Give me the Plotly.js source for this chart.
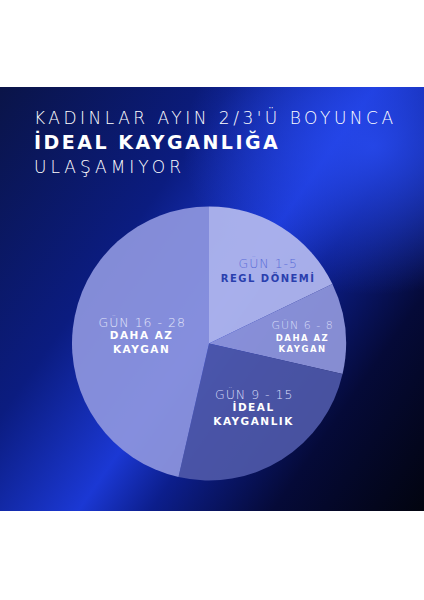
<!DOCTYPE html>
<html>
<head>
<meta charset="utf-8">
<script src="https://cdn.plot.ly/plotly-3.0.1.min.js"></script>
<style>
  html, body { margin: 0; padding: 0; background: #fff; }
  #wrap { position: relative; width: 424px; height: 600px; }
  #bg {
    position: absolute; left: 0; top: 87px; width: 424px; height: 424px;
    background:
      radial-gradient(ellipse 45% 35% at 88% 14%, rgba(40,75,240,0.85) 0%, rgba(40,75,240,0) 100%),
      linear-gradient(125deg, #0a1448 0%, #0b1c80 32%, #1b38d4 52%, #0c1e8c 62%, #050a38 79%, #02040f 100%);
  }
  #chart { position: absolute; left: 0; top: 0; width: 424px; height: 600px; }
</style>
</head>
<body>
<div id="wrap">
  <div id="bg"></div>
  <div id="chart"></div>
</div>
<script>
// cycle days per phase, clockwise from 12 o'clock
const phaseDays = [5, 3, 7, 13];
const phaseNames = ['GÜN 1-5', 'GÜN 6 - 8', 'GÜN 9 - 15', 'GÜN 16 - 28'];
const phaseLabels = ['REGL DÖNEMİ', 'DAHA AZ<br>KAYGAN', 'İDEAL<br>KAYGANLIK', 'DAHA AZ<br>KAYGAN'];
const titleLines = ['KADINLAR AYIN 2/3\'Ü BOYUNCA', 'İDEAL KAYGANLIĞA', 'ULAŞAMIYOR'];

const sliceColors = ['rgba(174,180,236,0.96)', 'rgba(144,151,220,0.93)', 'rgba(80,90,170,0.9)', 'rgba(142,150,222,0.92)'];
const nameColors = ['#5a6cd8', '#d8dcf8', '#d8dcf8', '#e2e5fa'];
const labelColors = ['#2a3fae', '#ffffff', '#ffffff', '#ffffff'];

// label centres in px (page coords) for name line and bold block
const namePos = [[268, 263], [302, 325], [254, 394], [142, 322]];
const labelPos = [[268, 277], [302, 343], [254, 414], [142, 342]];
const nameSize = [12.5, 11, 12.5, 12.5];
const labelSize = [10, 8.5, 10.5, 10.5];

const W = 424, H = 600;
const cx = 209, cy = 343.5, r = 137;

const thin = 'DejaVu Sans';
const annotations = [];
titleLines.forEach((t, i) => {
    annotations.push({
        text: i === 1 ? '<b>' + t + '</b>' : t,
        x: 32 / W, y: 1 - [117, 141, 167][i] / H,
        xref: 'paper', yref: 'paper', xanchor: 'left', yanchor: 'middle', align: 'left',
        showarrow: false,
        font: { family: thin, size: i === 1 ? 19 : 17, color: '#ffffff', weight: i === 1 ? 700 : 200 }
    });
});
phaseNames.forEach((n, i) => {
    annotations.push({
        text: n, x: namePos[i][0] / W, y: 1 - namePos[i][1] / H,
        xref: 'paper', yref: 'paper', xanchor: 'center', yanchor: 'middle', showarrow: false,
        font: { family: thin, size: nameSize[i], color: nameColors[i], weight: 200 }
    });
    annotations.push({
        text: '<b>' + phaseLabels[i] + '</b>', x: labelPos[i][0] / W, y: 1 - labelPos[i][1] / H,
        xref: 'paper', yref: 'paper', xanchor: 'center', yanchor: 'middle', showarrow: false,
        font: { family: 'DejaVu Sans', size: labelSize[i], color: labelColors[i] }
    });
});

const data = [{
    type: 'pie',
    values: phaseDays,
    labels: phaseNames,
    sort: false,
    direction: 'clockwise',
    rotation: 0,
    textinfo: 'none',
    hoverinfo: 'label+value',
    marker: { colors: sliceColors, line: { width: 0 } },
    domain: { x: [(cx - r) / W, (cx + r) / W], y: [1 - (cy + r) / H, 1 - (cy - r) / H] }
}];

const layout = {
    width: W, height: H,
    margin: { l: 0, r: 0, t: 0, b: 0 },
    paper_bgcolor: 'rgba(0,0,0,0)',
    plot_bgcolor: 'rgba(0,0,0,0)',
    showlegend: false,
    annotations: annotations
};

Plotly.newPlot('chart', data, layout, { staticPlot: true }).then(gd => {
    // wide letter spacing like the poster typeface
    const spacing = [3.5, 2.5, 4];
    gd.querySelectorAll('.annotation').forEach((g, i) => {
        const txt = g.querySelector('text');
        if (!txt) return;
        txt.style.letterSpacing = (i < 3 ? spacing[i] : (i % 2 === 1 ? 1 : 1.5)) + 'px';
    });
});
</script>
</body>
</html>
